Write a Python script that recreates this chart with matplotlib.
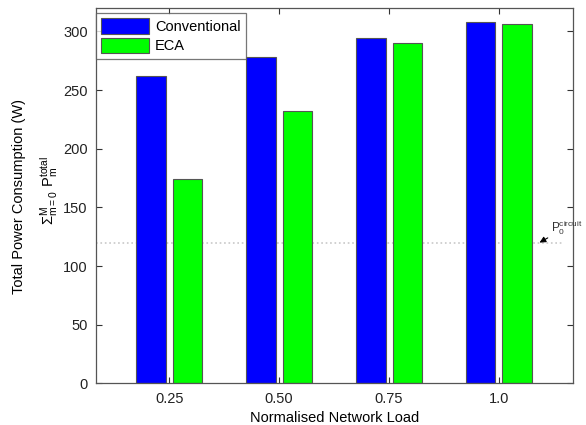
import matplotlib
matplotlib.use("Agg")
import matplotlib.pyplot as plt
import numpy as np

plt.rcParams['font.family'] = ['Liberation Sans', 'DejaVu Sans']
plt.rcParams['mathtext.default'] = 'regular'

loads = ['0.25', '0.50', '0.75', '1.0']
conventional = [262, 278, 294, 308]
eca = [174, 232, 290, 306]
circuit_power = 120
yticks = [0, 50, 100, 150, 200, 250, 300]

fig = plt.figure(figsize=(5.86, 4.25), dpi=100)
ax = fig.add_axes([96 / 586, 1 - 383.3 / 425, (572.5 - 96) / 586, (383.3 - 8) / 425])

x = np.arange(1, len(loads) + 1)
w = 0.27
off = 0.167
ax.bar(x - off, conventional, w, color='#0000ff', edgecolor='#555555', linewidth=0.8,
       label='Conventional', zorder=2)
ax.bar(x + off, eca, w, color='#00ff00', edgecolor='#555555', linewidth=0.8,
       label='ECA', zorder=2)

ax.axhline(circuit_power, xmin=0.0, xmax=0.98, color='#c8c8c8', linestyle=':',
           linewidth=1.2, zorder=1)
ax.annotate('$P_0^{circuit}$', xy=(4.37, circuit_power), xytext=(4.47, 125),
            fontsize=8.5, color='#333333', va='bottom',
            arrowprops=dict(arrowstyle='-|>', color='black', lw=0.8,
                            mutation_scale=9, shrinkA=0, shrinkB=0),
            annotation_clip=False, zorder=5)

ax.set_xlim(0.333, 4.67)
ax.set_ylim(0, 320)
ax.set_xticks(x)
ax.set_xticklabels(loads)
ax.set_yticks(yticks)
ax.tick_params(direction='in', top=True, right=True, length=4, width=0.8,
               labelsize=10.5, colors='#333333', labelcolor='#222222', pad=6)
for s in ax.spines.values():
    s.set_color('#555555')
    s.set_linewidth(0.9)

ax.set_xlabel('Normalised Network Load', fontsize=10.5, labelpad=4)
fig.text(19 / 586, 1 - 197 / 425, 'Total Power Consumption (W)', rotation=90,
         ha='center', va='center', fontsize=10.5)
fig.text(49 / 586, 1 - 190 / 425, r'$\Sigma_{m=0}^{M}\ P_m^{total}$', rotation=90,
         ha='center', va='center', fontsize=10.5)

leg = ax.legend(loc='upper left', bbox_to_anchor=(0.0, 0.987), fontsize=10.5,
                handlelength=3.3, handleheight=1.3, frameon=True, fancybox=False,
                borderpad=0.35, labelspacing=0.25, handletextpad=0.4,
                borderaxespad=0.0)
leg.get_frame().set_edgecolor('#555555')
leg.get_frame().set_linewidth(0.9)

fig.savefig('out.png', dpi=100)
